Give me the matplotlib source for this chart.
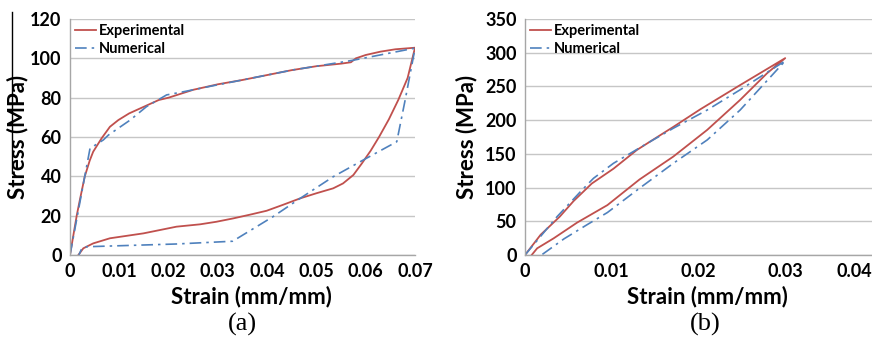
import matplotlib.pyplot as plt
from matplotlib.lines import Line2D

# (a) strain / stress
a_exp_x = [0, 0.001, 0.00136, 0.002, 0.003, 0.004, 0.0047, 0.0064, 0.0081, 0.0098,
           0.012, 0.015, 0.018, 0.020, 0.025, 0.030, 0.035, 0.040, 0.045, 0.050,
           0.055, 0.057, 0.058, 0.060, 0.063, 0.066, 0.070,
           0.0685, 0.0666, 0.0647, 0.0627, 0.061, 0.0592, 0.0575, 0.0554, 0.0534,
           0.050, 0.0467, 0.0432, 0.0399, 0.0365, 0.0331, 0.0297, 0.0264, 0.0216,
           0.0149, 0.0081, 0.0047, 0.0027, 0.0017]
a_exp_y = [0, 14.7, 20, 28, 40, 48, 52.5, 59.3, 65.2, 68.6,
           72, 75.4, 78.8, 80, 84, 86.8, 89, 91.5, 94, 96,
           97.3, 98, 100, 101.7, 103.4, 104.6, 105.4,
           90, 78.8, 69, 60, 53, 46.5, 40.7, 36.4, 33.9,
           31.4, 28.8, 25.5, 22.5, 20.5, 18.6, 16.9, 15.6, 14.4,
           11, 8.5, 5.9, 3.4, 0]
a_num_x = [0, 0.00406, 0.00676, 0.0078, 0.0122, 0.0155, 0.0196, 0.023, 0.0297, 0.035,
           0.040, 0.045, 0.050, 0.0574, 0.0696, 0.070,
           0.068, 0.0663, 0.0595, 0.0534, 0.0467, 0.0412, 0.033, 0.0216, 0.0034,
           0.0024, 0.0018]
a_num_y = [0, 54.2, 58.5, 61, 68.6, 75.4, 81.4, 83, 86.4, 89,
           91.5, 94, 96, 99, 105, 105,
           78.8, 57.6, 48.3, 39.8, 28.8, 19.5, 7, 5.6, 4.2,
           3.4, 0]

# (b)
b_exp_x = [0, 0.0018, 0.004, 0.0056, 0.0077, 0.0102, 0.0129, 0.0171, 0.0202,
           0.0248, 0.030,
           0.0279, 0.0248, 0.021, 0.0171, 0.0132, 0.0095, 0.006, 0.0033, 0.0014, 0.00077]
b_exp_y = [0, 30, 56.8, 80, 106, 128, 155.8, 190, 216,
           252, 292,
           269.5, 230, 185.5, 146, 112, 74, 48, 24.7, 9.9, 0]
b_num_x = [0, 0.0037, 0.0064, 0.0079, 0.0102, 0.0141, 0.0171, 0.021, 0.0248, 0.030,
           0.0248, 0.021, 0.0171, 0.0132, 0.0095, 0.0071, 0.0045, 0.0019]
b_num_y = [0, 56.9, 94, 113.8, 136, 165.7, 188, 215, 245, 288,
           215, 170.6, 136, 99, 63, 44.5, 24, 0]

red = '#c0504d'
blue = '#4f81bd'
grid_c = '#c6c6c6'
font = 'Lato'

fig = plt.figure(figsize=(8.72, 3.40), dpi=100)
ax1 = fig.add_axes([70/872, 85/340, 345/872, 236/340])
ax2 = fig.add_axes([525/872, 85/340, 347/872, 236/340])

panels = [
    (ax1, a_exp_x, a_exp_y, a_num_x, a_num_y, 0.07, 0.01, 120, 20, '(a)', 242, -0.122),
    (ax2, b_exp_x, b_exp_y, b_num_x, b_num_y, 0.04, 0.01, 350, 50, '(b)', 705, -0.138),
]

for ax, ex, ey, nx, ny, xmax, xstep, ymax, ystep, tag, tx, ylx in panels:
    ax.plot(ex, ey, color=red, lw=1.3, label='Experimental')
    ax.plot(nx, ny, color=blue, lw=1.2, linestyle=(0, (7, 3, 1.5, 3)), label='Numerical')
    ax.set_xlim(0, xmax)
    ax.set_ylim(0, ymax)
    xt = [round(i * xstep, 2) for i in range(int(round(xmax / xstep)) + 1)]
    ax.set_xticks(xt)
    ax.set_xticklabels(['0'] + ['%.2f' % v for v in xt[1:]])
    ax.set_yticks(range(0, ymax + 1, ystep))
    ax.grid(axis='y', color=grid_c, lw=1)
    ax.set_axisbelow(True)
    for s in ['top', 'right']:
        ax.spines[s].set_visible(False)
    for s in ['left', 'bottom']:
        ax.spines[s].set_color('#a6a6a6')
        ax.spines[s].set_linewidth(1)
    ax.tick_params(length=0, pad=6)
    for lab in ax.get_xticklabels() + ax.get_yticklabels():
        lab.set_fontfamily(font)
        lab.set_fontweight('bold')
        lab.set_fontsize(13)
    ax.set_xlabel('Strain (mm/mm)', fontfamily=font, fontweight='bold', fontsize=16)
    ax.set_ylabel('Stress (MPa)', fontfamily=font, fontweight='bold', fontsize=16)
    ax.xaxis.set_label_coords(0.525, -0.128)
    ax.yaxis.set_label_coords(ylx, 0.5)
    ax.legend(loc='upper left', bbox_to_anchor=(0.0, 1.0), frameon=False,
              prop={'family': font, 'weight': 'bold', 'size': 10.5},
              handlelength=1.4, handletextpad=0.2, labelspacing=0.25,
              borderpad=0.1, borderaxespad=0.25)
    fig.text(tx / 872, 1 - 324 / 340, tag, ha='center', va='center',
             fontfamily='Liberation Serif', fontsize=19)

ax2.get_xticklabels()[-1].set_horizontalalignment('right')

# stray line beside the left y label in the source figure
fig.add_artist(Line2D([12/872, 12/872], [1 - 12/340, 1 - 173/340], color='black', lw=1))

fig.savefig('out.png', dpi=100)
